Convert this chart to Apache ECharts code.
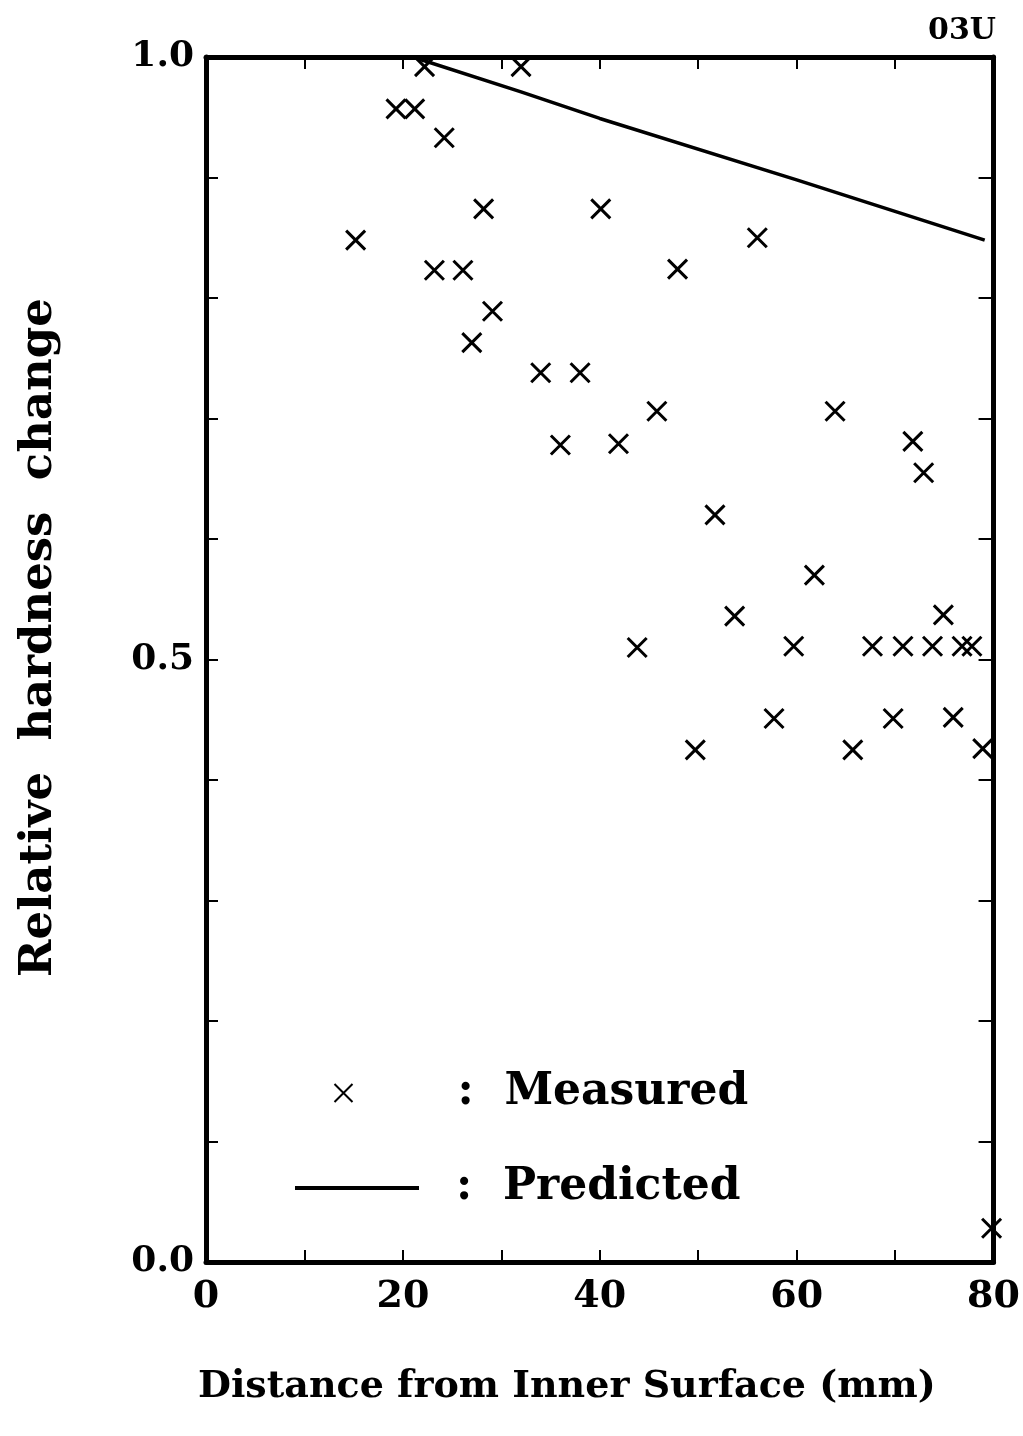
<!DOCTYPE html>
<html>
<head>
<meta charset="utf-8">
<script src="https://cdn.jsdelivr.net/npm/echarts@6/dist/echarts.min.js"></script>
<style>
  html, body { margin: 0; padding: 0; background: #fff; }
  #chart { width: 1023px; height: 1436px; }
</style>
</head>
<body>
<div id="chart"></div>
<script>
// measured points: distance (mm), relative hardness change
const measuredX = [15.2, 19.3, 21.2, 22.2, 23.2, 24.2, 26.1, 27.0, 28.2, 29.1, 32.0, 34.0, 36.0, 38.0,
  40.1, 41.9, 43.8, 45.8, 47.9, 49.7, 51.7, 53.7, 56.0, 57.7, 59.7, 61.8, 63.9, 65.7, 67.7,
  69.8, 70.8, 71.8, 72.9, 73.8, 74.9, 75.9, 76.8, 77.8, 78.9, 79.8];
const measuredY = [0.848, 0.957, 0.957, 0.992, 0.823, 0.933, 0.823, 0.763, 0.874, 0.789, 0.992, 0.738, 0.678, 0.738,
  0.874, 0.679, 0.510, 0.706, 0.824, 0.425, 0.620, 0.536, 0.850, 0.451, 0.511, 0.570, 0.706, 0.425, 0.511,
  0.451, 0.511, 0.681, 0.655, 0.511, 0.537, 0.452, 0.511, 0.511, 0.426, 0.028];

// predicted line
const predictedX = [21, 32, 40, 60, 79.1];
const predictedY = [1.0, 0.971, 0.949, 0.898, 0.848];

const xTickLabels = [0, 20, 40, 60, 80];
const yTickLabels = ['0.0', '0.5', '1.0'];

const serif = 'DejaVu Serif';
const crossPath = 'path://M0,0L10,10M10,0L0,10';

const chart = echarts.init(document.getElementById('chart'));

const frame = { show: true, onZero: false, lineStyle: { color: '#000', width: 5 } };
const legendText = { fontFamily: serif, fontWeight: 'bold', fontSize: 44, color: '#000' };

chart.setOption({
  animation: false,
  backgroundColor: '#fff',
  title: {
    text: '03U',
    right: 22,
    top: 11,
    textStyle: { fontFamily: serif, fontWeight: 'bold', fontSize: 30, color: '#000' }
  },
  grid: { left: 206, right: 29, top: 57, bottom: 174 },
  legend: [
    {
      data: ['Measured'],
      left: 332, top: 1071, padding: 0,
      itemWidth: 20, itemHeight: 18,
      formatter: name => '{sp|}:  ' + name,
      textStyle: Object.assign({ rich: { sp: { width: 99 } } }, legendText)
    },
    {
      data: [{ name: 'Predicted', icon: 'rect' }],
      left: 295, top: 1166, padding: 0,
      itemWidth: 124, itemHeight: 4,
      itemStyle: { color: '#000' },
      formatter: name => '{sp|}:  ' + name,
      textStyle: Object.assign({ rich: { sp: { width: 32 } } }, legendText)
    }
  ],
  xAxis: [
    {
      type: 'value', position: 'bottom',
      min: 0, max: 80, interval: 10,
      name: 'Distance from Inner Surface (mm)',
      nameLocation: 'middle', nameGap: 106,
      nameTextStyle: { fontFamily: serif, fontWeight: 'bold', fontSize: 38, color: '#000', padding: [0, 66, 0, 0] },
      axisLine: frame,
      axisTick: { inside: true, length: 12, lineStyle: { color: '#000', width: 2 } },
      axisLabel: {
        margin: 16,
        fontFamily: serif, fontWeight: 'bold', fontSize: 38, color: '#000',
        formatter: v => xTickLabels.includes(v) ? String(v) : ''
      },
      splitLine: { show: false }
    },
    {
      type: 'value', position: 'top',
      min: 0, max: 80, interval: 10,
      axisLine: frame,
      axisTick: { inside: true, length: 12, lineStyle: { color: '#000', width: 2 } },
      axisLabel: { show: false },
      splitLine: { show: false }
    }
  ],
  yAxis: [
    {
      type: 'value', position: 'left',
      min: 0, max: 1, interval: 0.1,
      name: 'Relative  hardness  change',
      nameLocation: 'middle', nameGap: 144,
      nameTextStyle: { fontFamily: serif, fontWeight: 'bold', fontSize: 45, color: '#000', padding: [0, 0, 0, 44] },
      axisLine: frame,
      axisTick: { inside: true, length: 12, lineStyle: { color: '#000', width: 2 } },
      axisLabel: {
        margin: 12,
        fontFamily: serif, fontWeight: 'bold', fontSize: 36, color: '#000',
        formatter: v => {
          const s = v.toFixed(1);
          return yTickLabels.includes(s) ? s : '';
        }
      },
      splitLine: { show: false }
    },
    {
      type: 'value', position: 'right',
      min: 0, max: 1, interval: 0.1,
      axisLine: frame,
      axisTick: { inside: true, length: 15, lineStyle: { color: '#000', width: 2 } },
      axisLabel: { show: false },
      splitLine: { show: false }
    }
  ],
  series: [
    {
      name: 'Measured',
      type: 'scatter',
      symbol: crossPath,
      symbolSize: 19,
      itemStyle: { color: 'none', borderColor: '#000', borderWidth: 3, opacity: 1 },
      data: measuredX.map((x, i) => [x, measuredY[i]])
    },
    {
      name: 'Predicted',
      type: 'line',
      symbol: 'none',
      color: '#000',
      lineStyle: { color: '#000', width: 3.5 },
      data: predictedX.map((x, i) => [x, predictedY[i]])
    }
  ]
});
</script>
</body>
</html>
